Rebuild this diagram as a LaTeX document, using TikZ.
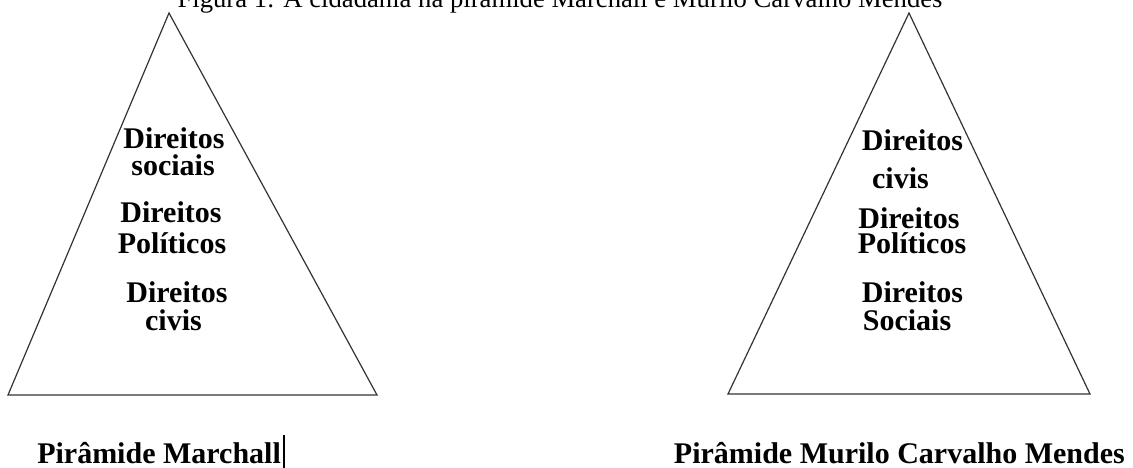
\documentclass[tikz,border=0pt]{standalone}
\usepackage{fontspec}
\setmainfont{Liberation Serif}
\begin{document}
\begin{tikzpicture}[x=0.75pt,y=-0.75pt,
  edge/.style={draw=black!80,line width=0.9pt,line join=miter},
  lbl/.style={inner sep=0pt,anchor=base,font=\fontsize{22.5pt}{24pt}\selectfont\bfseries},
  caption/.style={inner sep=0pt,font=\fontsize{22.5pt}{24pt}\selectfont\bfseries},
  ttl/.style={inner sep=0pt,anchor=base,font=\fontsize{20pt}{22pt}\selectfont}]
\useasboundingbox[fill=white] (0,0) rectangle (1133,468);
% title
\node[ttl] (title) at (560,7) {Figura 1: A cidadania na pirâmide Marchall e Murilo Carvalho Mendes};
% left pyramid
\coordinate (la) at (169,13);
\coordinate (lb) at (8,395);
\coordinate (lc) at (377,395);
\draw[edge] (la) -- (lb) -- (lc) -- cycle;
\node[lbl] (l1) at (174,148) {Direitos};
\node[lbl] (l2) at (173,175) {sociais};
\node[lbl] (l3) at (171,222) {Direitos};
\node[lbl] (l4) at (172,253) {Políticos};
\node[lbl] (l5) at (177,302) {Direitos};
\node[lbl] (l6) at (173.5,330) {civis};
% right pyramid
\coordinate (ra) at (909,13);
\coordinate (rb) at (728,394);
\coordinate (rc) at (1090,394);
\draw[edge] (ra) -- (rb) -- (rc) -- cycle;
\node[lbl] (r1) at (912.5,150) {Direitos};
\node[lbl] (r2) at (900.5,188) {civis};
\node[lbl] (r3) at (909,228) {Direitos};
\node[lbl] (r4) at (912,253) {Políticos};
\node[lbl] (r5) at (912.5,302) {Direitos};
\node[lbl] (r6) at (907,330) {Sociais};
% captions
\node[caption,anchor=base west] (capl) at (37,463) {Pirâmide Marchall};
\node[caption,anchor=base east] (capr) at (1125,463) {Pirâmide Murilo Carvalho Mendes};
\coordinate (cur1) at (284,435);
\coordinate (cur2) at (284,468);
\draw[line width=0.8pt] (cur1) -- (cur2);
\end{tikzpicture}
\end{document}
